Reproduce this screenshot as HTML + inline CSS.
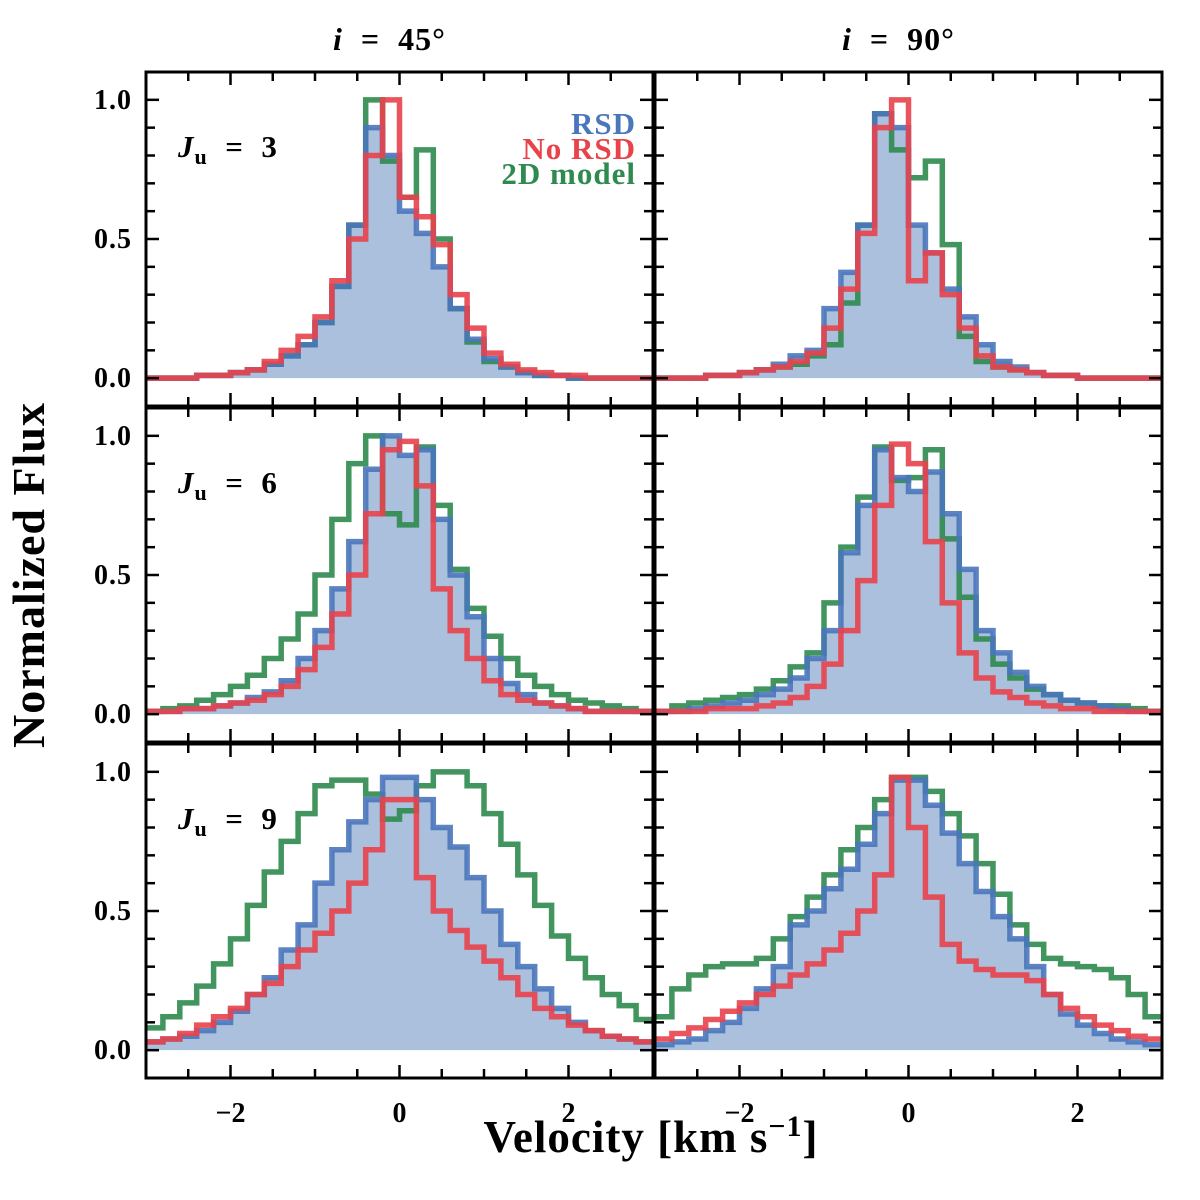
<!DOCTYPE html>
<html><head><meta charset="utf-8"><style>
body{margin:0;background:#fff}
svg{display:block}
text{font-family:"Liberation Serif",serif;font-weight:bold;fill:#000}
</style></head><body>
<svg id="chart" width="1200" height="1200" viewBox="0 0 1200 1200" xmlns="http://www.w3.org/2000/svg"></svg>
<script>
const binCenters=[-2.9,-2.7,-2.5,-2.3,-2.1,-1.9,-1.7,-1.5,-1.3,-1.1,-0.9,-0.7,-0.5,-0.3,-0.1,0.1,0.3,0.5,0.7,0.9,1.1,1.3,1.5,1.7,1.9,2.1,2.3,2.5,2.7,2.9];
const xTicks=[-2,0,2];
const yTicks=[0,0.5,1.0];
const yTickLabels=["0.0","0.5","1.0"];
const colTitles=["45","90"];
const rowLabels=["3","6","9"];
// Ju=3, i=45
const rsd_3_45=[0,0,0,0.01,0.01,0.02,0.03,0.05,0.08,0.12,0.2,0.33,0.55,0.9,0.8,0.6,0.52,0.4,0.25,0.14,0.07,0.04,0.02,0.01,0.01,0,0,0,0,0];
const nor_3_45=[0,0,0,0.01,0.01,0.02,0.03,0.06,0.1,0.15,0.22,0.35,0.5,0.8,1.0,0.65,0.58,0.48,0.3,0.18,0.09,0.05,0.03,0.02,0.01,0.01,0,0,0,0];
const mod_3_45=[0,0,0,0.01,0.01,0.02,0.03,0.05,0.08,0.12,0.2,0.33,0.55,1.0,0.78,0.65,0.82,0.5,0.25,0.13,0.06,0.04,0.02,0.01,0.01,0,0,0,0,0];
// Ju=3, i=90
const rsd_3_90=[0,0,0,0.01,0.01,0.02,0.03,0.05,0.08,0.1,0.25,0.38,0.55,0.95,0.9,0.55,0.45,0.32,0.22,0.12,0.06,0.04,0.02,0.01,0.01,0,0,0,0,0];
const nor_3_90=[0,0,0,0.01,0.01,0.02,0.03,0.04,0.06,0.09,0.18,0.32,0.52,0.9,1.0,0.35,0.45,0.3,0.18,0.08,0.04,0.03,0.02,0.01,0.01,0,0,0,0,0];
const mod_3_90=[0,0,0,0.01,0.01,0.02,0.03,0.04,0.05,0.08,0.12,0.27,0.55,0.95,0.82,0.72,0.78,0.48,0.15,0.06,0.04,0.03,0.02,0.01,0.01,0,0,0,0,0];
// Ju=6, i=45
const rsd_6_45=[0.01,0.01,0.02,0.02,0.03,0.04,0.06,0.08,0.12,0.2,0.3,0.45,0.62,0.88,1.0,0.93,0.95,0.7,0.5,0.35,0.2,0.11,0.07,0.04,0.03,0.02,0.01,0.01,0.01,0.01];
const nor_6_45=[0.01,0.01,0.02,0.02,0.03,0.04,0.05,0.07,0.1,0.16,0.24,0.36,0.5,0.72,0.95,0.98,0.82,0.45,0.3,0.2,0.12,0.07,0.05,0.04,0.03,0.02,0.01,0.01,0.01,0.01];
const mod_6_45=[0.01,0.02,0.03,0.05,0.07,0.1,0.14,0.2,0.27,0.36,0.5,0.7,0.9,1.0,0.72,0.68,0.96,0.75,0.52,0.38,0.28,0.2,0.14,0.1,0.07,0.05,0.04,0.03,0.02,0.01];
// Ju=6, i=90
const rsd_6_90=[0.01,0.01,0.02,0.03,0.04,0.05,0.07,0.09,0.13,0.2,0.3,0.58,0.75,0.95,0.85,0.8,0.87,0.72,0.52,0.3,0.22,0.15,0.1,0.07,0.05,0.04,0.03,0.02,0.01,0.01];
const nor_6_90=[0.01,0.01,0.01,0.02,0.02,0.02,0.03,0.04,0.06,0.1,0.18,0.3,0.48,0.75,0.97,0.9,0.62,0.4,0.22,0.13,0.08,0.06,0.04,0.03,0.02,0.02,0.01,0.01,0.01,0.01];
const mod_6_90=[0.01,0.03,0.04,0.05,0.06,0.07,0.09,0.12,0.17,0.22,0.4,0.6,0.78,0.96,0.84,0.85,0.95,0.63,0.42,0.27,0.18,0.13,0.09,0.07,0.05,0.04,0.03,0.03,0.02,0.01];
// Ju=9, i=45
const rsd_9_45=[0.03,0.04,0.05,0.07,0.1,0.14,0.2,0.26,0.36,0.45,0.6,0.72,0.82,0.9,0.98,0.98,0.9,0.8,0.73,0.62,0.5,0.38,0.3,0.22,0.15,0.1,0.07,0.05,0.04,0.03];
const nor_9_45=[0.03,0.04,0.06,0.09,0.12,0.15,0.2,0.24,0.3,0.36,0.42,0.5,0.6,0.72,0.9,0.9,0.62,0.5,0.43,0.37,0.32,0.26,0.2,0.15,0.12,0.09,0.07,0.05,0.04,0.03];
const mod_9_45=[0.08,0.12,0.17,0.23,0.31,0.4,0.52,0.64,0.75,0.85,0.95,0.97,0.97,0.92,0.83,0.86,0.95,1.0,1.0,0.95,0.85,0.74,0.63,0.52,0.41,0.33,0.26,0.2,0.16,0.11];
// Ju=9, i=90
const rsd_9_90=[0.02,0.03,0.04,0.07,0.1,0.15,0.22,0.3,0.45,0.5,0.58,0.65,0.74,0.85,0.97,0.97,0.88,0.78,0.67,0.57,0.48,0.4,0.3,0.2,0.13,0.09,0.06,0.04,0.03,0.02];
const nor_9_90=[0.04,0.06,0.08,0.11,0.14,0.17,0.2,0.23,0.27,0.31,0.36,0.42,0.5,0.63,0.98,0.8,0.55,0.38,0.32,0.29,0.27,0.27,0.25,0.2,0.15,0.12,0.09,0.07,0.05,0.04];
const mod_9_90=[0.12,0.22,0.27,0.3,0.31,0.31,0.33,0.4,0.48,0.55,0.63,0.72,0.8,0.9,0.98,0.98,0.93,0.85,0.77,0.67,0.56,0.45,0.38,0.33,0.31,0.3,0.29,0.26,0.2,0.12];

const panels=[
 {row:0,col:0,rsd:rsd_3_45,nor:nor_3_45,mod:mod_3_45},
 {row:0,col:1,rsd:rsd_3_90,nor:nor_3_90,mod:mod_3_90},
 {row:1,col:0,rsd:rsd_6_45,nor:nor_6_45,mod:mod_6_45},
 {row:1,col:1,rsd:rsd_6_90,nor:nor_6_90,mod:mod_6_90},
 {row:2,col:0,rsd:rsd_9_45,nor:nor_9_45,mod:mod_9_45},
 {row:2,col:1,rsd:rsd_9_90,nor:nor_9_90,mod:mod_9_90}
];
const NS="http://www.w3.org/2000/svg";
const svg=document.getElementById('chart');
const colX=[146,655], panelW=507, rowY=[72,408,744], panelH=334;
const XMIN=-3,XMAX=3,YMIN=-0.1,YMAX=1.1,BW=0.2;
function mk(tag,attrs,parent){const e=document.createElementNS(NS,tag);for(const k in attrs)e.setAttribute(k,attrs[k]);(parent||svg).appendChild(e);return e;}
function stepPath(vals,xs,ys,closed){
  let d='';
  vals.forEach((v,i)=>{const x0=xs(binCenters[i]-BW/2),x1=xs(binCenters[i]+BW/2),y=ys(v);
    d+=(i===0?(closed?'M'+x0+','+ys(0)+'L':'M'):'L')+x0+','+y+'L'+x1+','+y;});
  if(closed)d+='L'+xs(binCenters[binCenters.length-1]+BW/2)+','+ys(0)+'Z';
  return d;
}
panels.forEach(p=>{
  const px=colX[p.col],py=rowY[p.row];
  const xs=v=>px+(v-XMIN)/(XMAX-XMIN)*panelW;
  const ys=v=>py+(YMAX-v)/(YMAX-YMIN)*panelH;
  const g=mk('g',{});
  
  
  const cid='clip'+p.row+p.col;
  const cp=mk('clipPath',{id:cid},g);mk('rect',{x:px,y:py,width:panelW,height:panelH},cp);
  const inner=mk('g',{'clip-path':'url(#'+cid+')'},g);
  const f=mk('path',{d:stepPath(p.rsd,xs,ys,true),fill:'#aac0dc',stroke:'none'},inner);
  
  
  const lm=mk('path',{d:stepPath(p.mod,xs,ys,false),fill:'none',stroke:'#2e8a4e','stroke-width':5.5,'stroke-opacity':0.9},inner);
  
  
  const lb=mk('path',{d:stepPath(p.rsd,xs,ys,false),fill:'none',stroke:'#4a76bb','stroke-width':5.5,'stroke-opacity':0.9},inner);
  
  
  const lr=mk('path',{d:stepPath(p.nor,xs,ys,false),fill:'none',stroke:'#e8434b','stroke-width':5.5,'stroke-opacity':0.9},inner);
  
  
  for(let v=-3;v<=3.001;v+=0.5){const x=xs(v);const maj=Math.abs(v%2)<1e-6;const L=maj?13:9;
    mk('line',{x1:x,y1:py,x2:x,y2:py+L,stroke:'#000','stroke-width':2.5},g);
    mk('line',{x1:x,y1:py+panelH,x2:x,y2:py+panelH-L,stroke:'#000','stroke-width':2.5},g);}
  for(let k=0;k<=10;k++){const v=k/10;const y=ys(v);const maj=(k%5===0);const L=maj?13:9;
    mk('line',{x1:px,y1:y,x2:px+L,y2:y,stroke:'#000','stroke-width':2.5},g);
    mk('line',{x1:px+panelW,y1:y,x2:px+panelW-L,y2:y,stroke:'#000','stroke-width':2.5},g);}
  mk('rect',{x:px,y:py,width:panelW,height:panelH,fill:'none',stroke:'#000','stroke-width':3},g);
  if(p.col===0){
    yTicks.forEach((v,i)=>{const t=mk('text',{x:px-14,y:ys(v)+9,'text-anchor':'end','font-size':28,'letter-spacing':1},g);t.textContent=yTickLabels[i];
      
      });
    const t=mk('text',{x:178,y:py+85,'font-size':31,'letter-spacing':1},g);
    
    
    t.innerHTML='<tspan font-style="italic">J</tspan><tspan font-size="22" dy="7">u</tspan><tspan dy="-7"> \u00A0= \u00A0'+rowLabels[p.row]+'</tspan>';
  }
  if(p.row===2){
    xTicks.forEach(v=>{const t=mk('text',{x:xs(v),y:py+panelH+44,'text-anchor':'middle','font-size':28},g);t.textContent=(v<0?'\u2212':'')+Math.abs(v);
      
      });
  }
  if(p.row===0){
    const t=mk('text',{x:xs(0)-10,y:50,'text-anchor':'middle','font-size':32,'letter-spacing':1},g);
    
    
    t.innerHTML='<tspan font-style="italic">i</tspan> \u00A0= \u00A0'+colTitles[p.col]+'\u00B0';
  }
});
const legItems=[["RSD","#4a76bb",134],["No RSD","#e8434b",159],["2D model","#2e8a4e",184]];
legItems.forEach(it=>{const t=mk('text',{x:636,y:it[2],'text-anchor':'end','font-size':31,'letter-spacing':1,fill:it[1]});t.textContent=it[0];t.style.fill=it[1];
  
  });
const xl=mk('text',{x:651,y:1152,'text-anchor':'middle','font-size':45,'letter-spacing':1});


xl.innerHTML='Velocity [km s<tspan font-size="30" dy="-16">\u22121</tspan><tspan dy="16">]</tspan>';
const yl=mk('text',{x:0,y:0,'text-anchor':'middle','font-size':46,'letter-spacing':1,transform:'translate(44,575) rotate(-90)'});


yl.textContent='Normalized Flux';
</script>
</body></html>
